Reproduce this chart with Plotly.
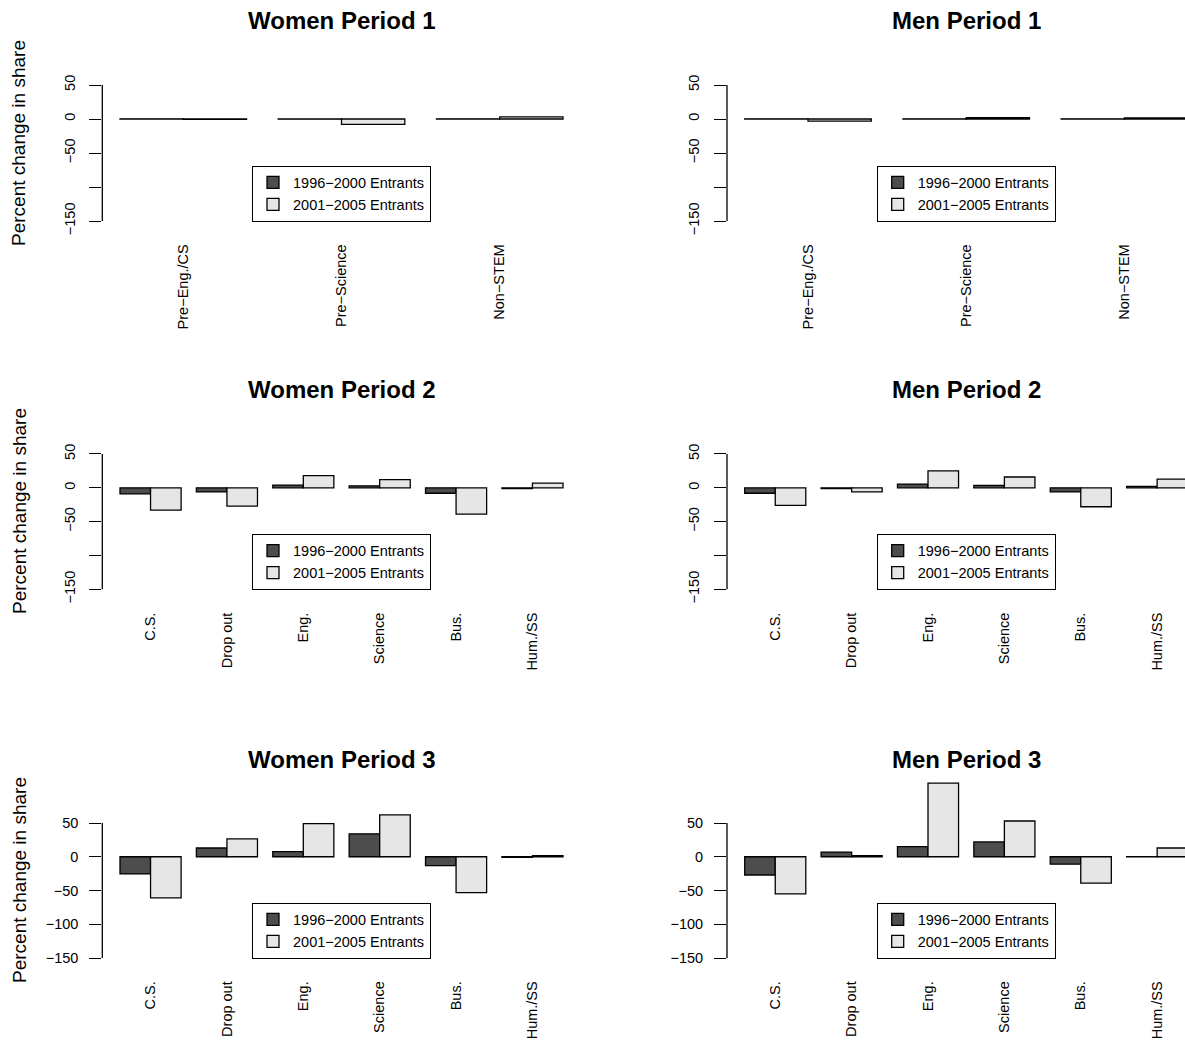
import plotly.graph_objects as go

W, H = 1185, 1045

# ---------------- data ----------------
cats_period1 = ["Pre−Eng./CS", "Pre−Science", "Non−STEM"]
cats_period23 = ["C.S.", "Drop out", "Eng.", "Science", "Bus.", "Hum./SS"]
series_names = ["1996−2000 Entrants", "2001−2005 Entrants"]

women_p1_early = [0.2, -0.3, 0.3]
women_p1_late = [-0.6, -8, 3]
men_p1_early = [0.2, 0.3, 0.2]
men_p1_late = [-3, 2, 1.5]

women_p2_early = [-9, -6, 4, 3, -8, -1]
women_p2_late = [-33, -27, 18, 12, -39, 7]
men_p2_early = [-8, -1, 5.5, 3.5, -6, 2]
men_p2_late = [-26, -6, 25, 16, -28, 13]

women_p3_early = [-25.5, 13, 7.5, 34, -13, -1]
women_p3_late = [-61, 26.5, 49, 62, -53, 1.5]
men_p3_early = [-27, 7, 15, 22, -11, 0.3]
men_p3_late = [-55, 1.5, 109, 53, -39, 13]

y_tick_vals = [-150, -100, -50, 0, 50]
y_tick_text = ["−150", "−100", "−50", "0", "50"]

panels = [
    ("Women Period 1", cats_period1, women_p1_early, women_p1_late),
    ("Men Period 1", cats_period1, men_p1_early, men_p1_late),
    ("Women Period 2", cats_period23, women_p2_early, women_p2_late),
    ("Men Period 2", cats_period23, men_p2_early, men_p2_late),
    ("Women Period 3", cats_period23, women_p3_early, women_p3_late),
    ("Men Period 3", cats_period23, men_p3_early, men_p3_late),
]

# ---------------- styling / geometry ----------------
FONT = "Liberation Sans, Arial, Helvetica, sans-serif"
DARK = "#4D4D4D"
LIGHT = "#E6E6E6"
LW = 1.3

row_t50 = [85.0, 454.0, 823.0]      # pixel y of the 50 tick
row_t150 = [221.0, 589.3, 958.0]    # pixel y of the -150 tick
row_ylab = [143.0, 511.0, 880.0]    # pixel y centre of the y-axis title
col_left = [102.3, 727.0]           # pixel x of the y axis
bars_span = 443.0                   # pixel width from first to last bar edge
bar_offset = 17.7                   # gap between axis and first bar
region_w = 478.4

def px(xp):
    return xp / W

def py(yp):
    return 1 - yp / H

fig = go.Figure()
layout = dict(
    template="none",
    width=W, height=H, autosize=False,
    margin=dict(l=0, r=0, t=0, b=0, pad=0, autoexpand=False),
    paper_bgcolor="white", plot_bgcolor="white",
    barmode="group", bargap=0.2, bargroupgap=0,
    font=dict(family=FONT, color="black", size=14.5),
    showlegend=True,
)
annotations = []
shapes = []

for k, (title, cats, early, late) in enumerate(panels):
    r, c = divmod(k, 2)
    idx = "" if k == 0 else str(k + 1)
    n = len(cats)
    xa, ya = "x" + idx, "y" + idx
    leg = "legend" + idx

    fig.add_trace(go.Bar(x=cats, y=early, name=series_names[0], xaxis=xa, yaxis=ya,
                         marker=dict(color=DARK, line=dict(color="black", width=LW)),
                         legend=leg, showlegend=True))
    fig.add_trace(go.Bar(x=cats, y=late, name=series_names[1], xaxis=xa, yaxis=ya,
                         marker=dict(color=LIGHT, line=dict(color="black", width=LW)),
                         legend=leg, showlegend=True))

    # x geometry
    u = bars_span / (n - 0.2)
    L = col_left[c]
    Rp = min(L + region_w, W)
    x0 = -0.4 - bar_offset / u
    x1 = x0 + (Rp - L) / u

    # y geometry
    s = (row_t150[r] - row_t50[r]) / 200.0
    zero_px = row_t50[r] + 50 * s
    ylo = -158
    yhi = max(58, max(early + late) + 5)
    top_px = zero_px - yhi * s
    bot_px = zero_px - ylo * s

    layout["xaxis" + idx] = dict(
        domain=[px(L), px(Rp)], range=[x0, x1], type="category",
        categoryorder="array", categoryarray=cats, anchor=ya,
        showline=False, showgrid=False, zeroline=False, ticks="",
        automargin=False,
        tickangle=-90, tickfont=dict(size=14.5, family=FONT, color="black"),
        ticklabelstandoff=14, fixedrange=True,
    )
    if r < 2:
        ttext = [t if v != -100 else "" for v, t in zip(y_tick_vals, y_tick_text)]
        tangle = -90
        stand = 9
    else:
        ttext = y_tick_text
        tangle = 0
        stand = 8
    layout["yaxis" + idx] = dict(
        domain=[py(bot_px), py(top_px)], range=[ylo, yhi], anchor=xa,
        showline=False, showgrid=False, zeroline=False, automargin=False,
        tickmode="array", tickvals=y_tick_vals, ticktext=ttext,
        ticks="outside", ticklen=12, tickwidth=LW, tickcolor="black",
        tickangle=tangle, ticklabelstandoff=stand,
        tickfont=dict(size=14.5, family=FONT, color="black"), fixedrange=True,
    )
    shapes.append(dict(type="line", xref=xa + " domain", yref=ya,
                       x0=0, x1=0, y0=y_tick_vals[0], y1=y_tick_vals[-1],
                       line=dict(color="black", width=LW)))

    # title
    title_y = row_t50[r] - 8 * s - 58.6
    annotations.append(dict(text="<b>" + title + "</b>", xref="paper", yref="paper",
                            x=px(L + region_w / 2), y=py(title_y), xanchor="center",
                            yanchor="middle", showarrow=False,
                            font=dict(size=24, family=FONT, color="black")))
    if c == 0:
        annotations.append(dict(text="Percent change in share", xref="paper", yref="paper",
                                x=px(19), y=py(row_ylab[r]),
                                xanchor="center", yanchor="middle", textangle=-90,
                                showarrow=False,
                                font=dict(size=19, family=FONT, color="black")))

    legend_bottom = row_t150[r] + 0.5
    layout[leg] = dict(
        x=px(L + region_w / 2), y=py(legend_bottom), xanchor="center", yanchor="bottom",
        xref="paper", yref="paper",
        bgcolor="white", bordercolor="black", borderwidth=1,
        font=dict(size=14.5, family=FONT, color="black"),
        traceorder="normal", itemclick=False, itemdoubleclick=False,
    )

layout["annotations"] = annotations
layout["shapes"] = shapes
fig.update_layout(**layout)
fig.write_html(
    "out.html",
    config={"displayModeBar": False},
    post_script="document.body.style.margin='0';document.body.style.overflow='hidden';",
)
